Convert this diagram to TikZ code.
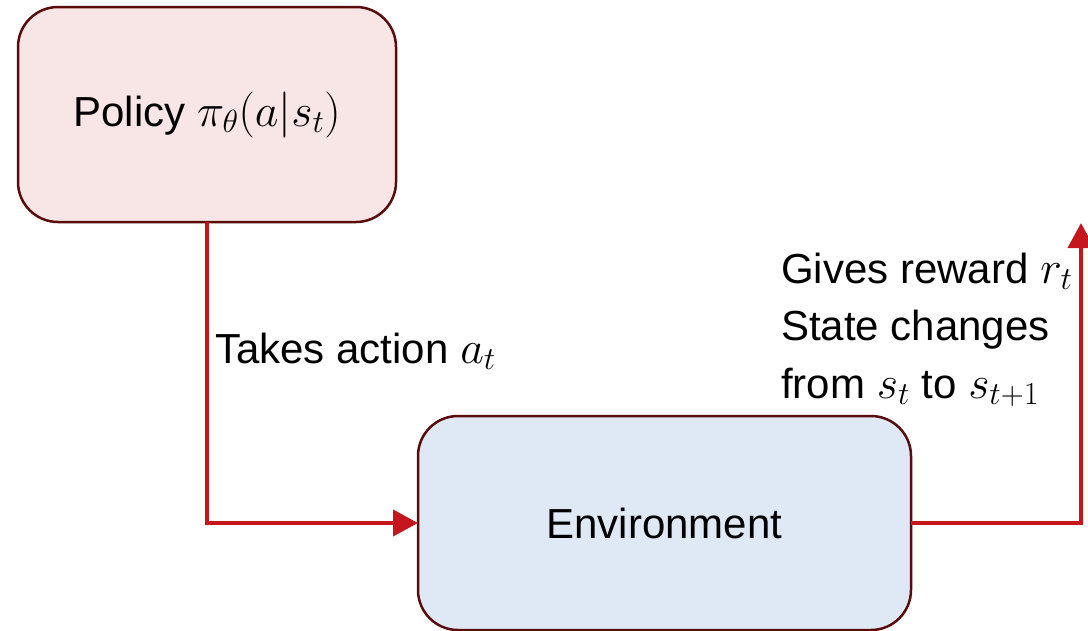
\RequirePackage{fix-cm}
\documentclass[tikz,border=0pt]{standalone}
\usepackage{fontspec}
\setmainfont{Liberation Sans}
\usetikzlibrary{arrows.meta}
% slightly larger maths beside the 42pt text
\DeclareMathSizes{42}{46}{32}{23}
\definecolor{boxline}{HTML}{5A0C0C}
\definecolor{polfill}{HTML}{F8E5E5}
\definecolor{envfill}{HTML}{DEE9F5}
\definecolor{flowred}{HTML}{C4161C}
\begin{document}
\begin{tikzpicture}[x=1pt,y=-1pt,
  font=\fontsize{42}{57}\selectfont,
  block/.style={draw=boxline, line width=2.5pt, rounded corners=40pt,
    inner sep=0pt, outer sep=0pt},
  flow/.style={draw=flowred, line width=4pt,
    -{Triangle[length=25pt,width=26pt]}},
  lbl/.style={anchor=base west, inner sep=0pt}]
\useasboundingbox (0,0) rectangle (1088,630);
% the two blocks
\node[block, fill=polfill, minimum width=378pt, minimum height=215pt]
  (pol) at (207,114.5) {Policy $\pi_\theta(a|s_t)$};
\node[block, fill=envfill, minimum width=493pt, minimum height=214pt]
  (env) at (664.5,523) {Environment};
% loop connectors
\coordinate (ret) at (1081,223);
\draw[flow] (pol.south) |- (env.west);
\draw[flow] (env.east) -| (ret);
% labels
\node[lbl] (act) at (215,363) {Takes action $a_t$};
\node[lbl] (rew1) at (781,283) {Gives reward $r_t$};
\node[lbl] (rew2) at (781,340) {State changes};
\node[lbl] (rew3) at (781,398) {from $s_t$ to $s_{t+1}$};
\end{tikzpicture}
\end{document}
